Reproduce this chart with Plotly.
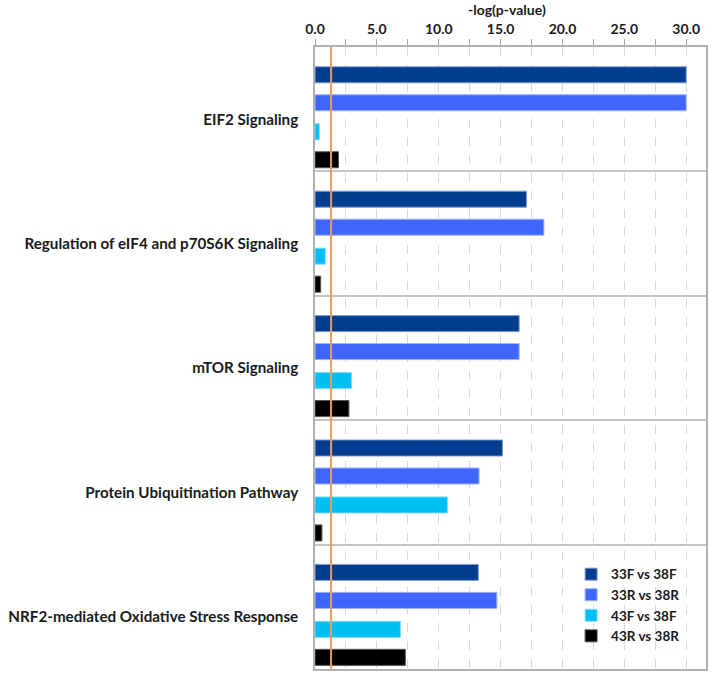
import plotly.graph_objects as go

categories = [
    "EIF2 Signaling",
    "Regulation of eIF4 and p70S6K Signaling",
    "mTOR Signaling",
    "Protein Ubiquitination Pathway",
    "NRF2-mediated Oxidative Stress Response",
]
series_names = ["33F vs 38F", "33R vs 38R", "43F vs 38F", "43R vs 38R"]
s33F_38F = [30.0, 17.1, 16.5, 15.15, 13.2]
s33R_38R = [30.0, 18.5, 16.5, 13.26, 14.7]
s43F_38F = [0.35, 0.83, 2.96, 10.7, 6.9]
s43R_38R = [1.9, 0.46, 2.74, 0.56, 7.3]
threshold = 1.3
x_title = "-log(p-value)"

series_values = [s33F_38F, s33R_38R, s43F_38F, s43R_38R]
colors = ["#033d8d", "#3f66fa", "#00bff5", "#000000"]
line_colors = ["#7f9bd0", "#9fb2ff", "#7fdcfa", "#555555"]
offsets = [-0.341, -0.116, 0.117, 0.342]
bar_w = 0.129

FONT = "Lato"

fig = go.Figure()
for name, vals, c, lc, off in zip(series_names, series_values, colors, line_colors, offsets):
    fig.add_trace(go.Bar(
        y=categories, x=vals, name=name, orientation="h",
        marker=dict(color=c, line=dict(color=lc, width=1)),
        width=bar_w, offset=off,
    ))

fig.add_shape(type="line", xref="x", yref="paper", x0=threshold, x1=threshold,
              y0=0, y1=1, line=dict(color="#ee9a5a", width=2), layer="above")

fig.add_annotation(text=x_title, xref="paper", yref="paper", x=0.49, y=1,
                   xanchor="center", yanchor="bottom", yshift=27, showarrow=False,
                   font=dict(family=FONT, size=14, color="#1a1a1a", weight="bold"))

fig.update_layout(
    width=714, height=678,
    margin=dict(l=315, r=8, t=47, b=9, autoexpand=False),
    paper_bgcolor="white", plot_bgcolor="white",
    barmode="overlay",
    font=dict(family=FONT, size=13, color="#1a1a1a"),
    showlegend=True,
    legend=dict(
        x=0.655, y=0.177, xanchor="left", yanchor="top",
        bgcolor="rgba(255,255,255,0)",
        font=dict(family=FONT, size=13.5, color="#1a1a1a", weight="bold"),
        tracegroupgap=0, itemwidth=30,
    ),
)

fig.update_xaxes(
    side="top", range=[0, 31.6], automargin=False,
    tickmode="linear", tick0=0, dtick=5, tickformat=".1f",
    tickfont=dict(family=FONT, size=14, color="#1a1a1a", weight="bold"),
    ticks="outside", ticklen=6, tickcolor="#a6a6a6", tickwidth=1,
    showgrid=True, gridcolor="#d9d9d9", griddash="dash", gridwidth=1,
    minor=dict(dtick=2.5, showgrid=True, gridcolor="#d9d9d9", griddash="dash",
               ticks="outside", ticklen=6, tickcolor="#a6a6a6"),
    showline=True, linecolor="#b0b0b0", linewidth=1.5, mirror=True,
    zeroline=False,
)

fig.update_yaxes(
    type="category", categoryorder="array", categoryarray=categories,
    range=[4.5, -0.5], automargin=False,
    tickson="boundaries", ticks="", showgrid=True, gridcolor="#c4c4c4", gridwidth=1.5,
    showline=True, linecolor="#b0b0b0", linewidth=1.5, mirror=True,
    tickfont=dict(family=FONT, size=15.2, color="#1a1a1a", weight="bold"),
    ticklabelstandoff=12, ticklabelshift=-10,
)

# remove the default 8px page margin so the figure fills the window
fig.write_html("out.html", config={"displayModeBar": False},
               post_script="document.body.style.margin='0';")
